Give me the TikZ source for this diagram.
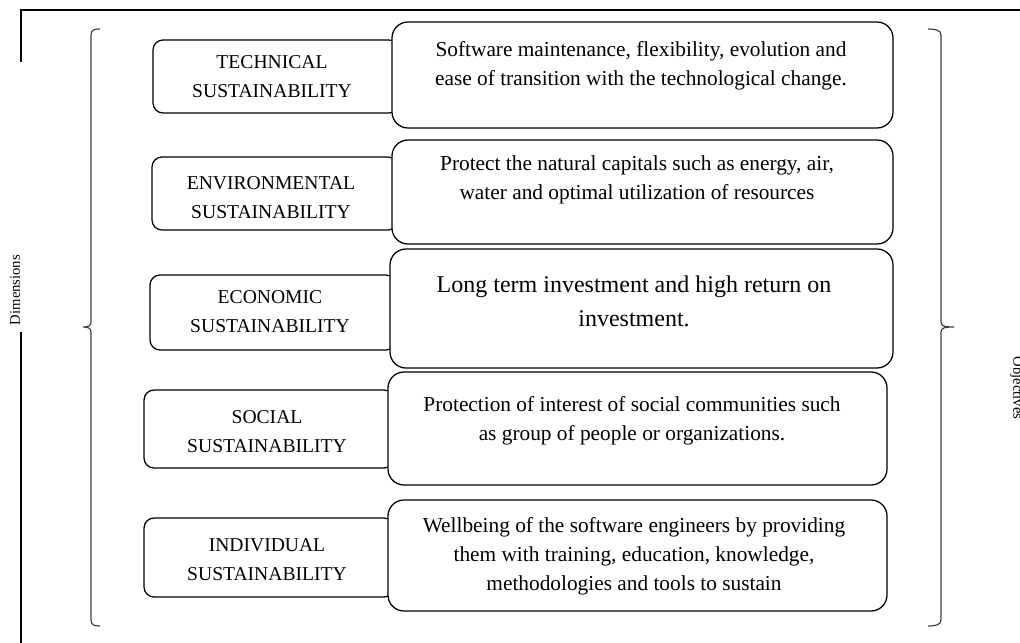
\documentclass[tikz,border=0pt]{standalone}
\usepackage{fontspec}
\setmainfont{Liberation Serif}
\begin{document}
\begin{tikzpicture}[x=0.75pt,y=-0.75pt,
  lbox/.style={draw, line width=0.95pt, rounded corners=7.5pt, fill=white, inner sep=0pt},
  rbox/.style={draw, line width=0.95pt, rounded corners=12pt, fill=white, inner sep=0pt},
  txt/.style={align=center, inner sep=0pt, font=\fontsize{14.7}{21.75}\selectfont},
  dtxt/.style={align=center, inner sep=0pt, font=\fontsize{16}{21.75}\selectfont},
  side/.style={inner sep=0pt, font=\fontsize{11}{13}\selectfont},
  frame/.style={line width=1.5pt},
  brace/.style={draw=black!75, line width=0.9pt}]
\useasboundingbox (0,0) rectangle (1020,642);
% outer frame
\draw[frame] (21,62) -- (21,10) -- (1025,10);
\draw[frame] (21,332) -- (21,645);
\node[side, rotate=90] (dim) at (15,290) {Dimensions};
\node[side, rotate=-90] (obj) at (1017,388) {Objectives};
% braces
\draw[brace] (100,29) .. controls (94,29) and (91,30) .. (91,35) -- (91,322)
  .. controls (91,326) and (88,327) .. (83,327) .. controls (88,327) and (91,328) .. (91,332)
  -- (91,620) .. controls (91,625) and (94,626) .. (100,626);
\draw[brace] (928,29) .. controls (935,29) and (941,30) .. (941,35) -- (941,322)
  .. controls (941,326) and (944,327) .. (954,327) .. controls (944,327) and (941,328) .. (941,332)
  -- (941,620) .. controls (941,625) and (935,626) .. (928,626);
% left boxes
\node[lbox, minimum width=246*0.75pt, minimum height=73*0.75pt] (l1) at (276,76.5) {};
\node[lbox, minimum width=246*0.75pt, minimum height=73*0.75pt] (l2) at (275,193.5) {};
\node[lbox, minimum width=246*0.75pt, minimum height=75*0.75pt] (l3) at (273,312.5) {};
\node[lbox, minimum width=250*0.75pt, minimum height=78*0.75pt] (l4) at (269,429) {};
\node[lbox, minimum width=250*0.75pt, minimum height=79*0.75pt] (l5) at (269,557.5) {};
% right boxes
\node[rbox, minimum width=501*0.75pt, minimum height=106*0.75pt] (r1) at (642.5,75) {};
\node[rbox, minimum width=501*0.75pt, minimum height=104*0.75pt] (r2) at (642.5,192) {};
\node[rbox, minimum width=503*0.75pt, minimum height=119*0.75pt] (r3) at (641.5,308.5) {};
\node[rbox, minimum width=499*0.75pt, minimum height=113*0.75pt] (r4) at (637.5,428.5) {};
\node[rbox, minimum width=499*0.75pt, minimum height=111*0.75pt] (r5) at (637.5,555.5) {};
% left texts
\node[txt] (t1) at (272,77) {TECHNICAL\\SUSTAINABILITY};
\node[txt] (t2) at (271,198) {ENVIRONMENTAL\\SUSTAINABILITY};
\node[txt] (t3) at (270,312) {ECONOMIC\\SUSTAINABILITY};
\node[txt] (t4) at (267,432) {SOCIAL\\SUSTAINABILITY};
\node[txt] (t5) at (267,560) {INDIVIDUAL\\SUSTAINABILITY};
% right texts
\node[dtxt] (d1) at (641,66) {Software maintenance, flexibility, evolution and\\ease of transition with the technological change.};
\node[dtxt] (d2) at (637,180) {Protect the natural capitals such as energy, air,\\water and optimal utilization of resources};
\node[dtxt, font=\fontsize{18}{25.5}\selectfont] (d3) at (634,301) {Long term investment and high return on\\investment.};
\node[dtxt] (d4) at (632,421) {Protection of interest of social communities such\\as group of people or organizations.};
\node[dtxt] (d5) at (634,556) {Wellbeing of the software engineers by providing\\them with training, education, knowledge,\\methodologies and tools to sustain};
\end{tikzpicture}
\end{document}
